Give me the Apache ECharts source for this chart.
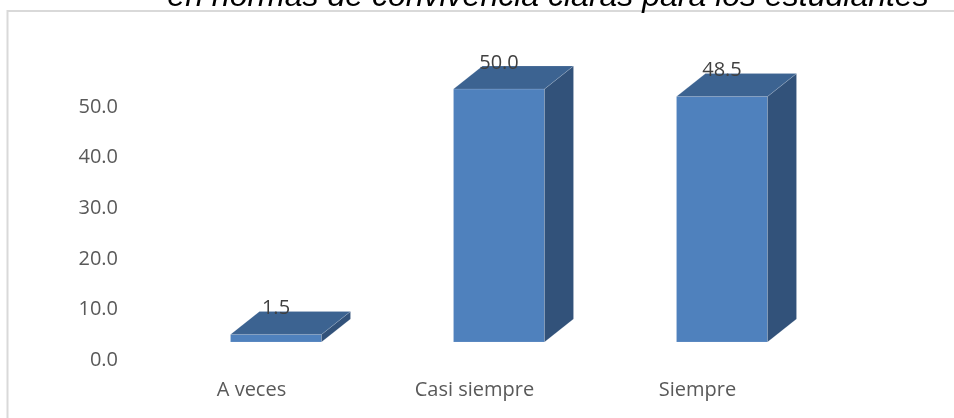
<!DOCTYPE html>
<html>
<head>
<meta charset="utf-8">
<title>Normas de convivencia</title>
<script src="https://cdn.jsdelivr.net/npm/echarts@6/dist/echarts.min.js"></script>
<style>
  html, body { margin: 0; padding: 0; background: #fff; }
  #main { width: 954px; height: 418px; }
</style>
</head>
<body>
<div id="main"></div>
<script>
var categories = ['A veces', 'Casi siempre', 'Siempre'];
var values = [1.5, 50.0, 48.5];
var yTicks = [0, 10, 20, 30, 40, 50];

var myChart = echarts.init(document.getElementById('main'));

// Excel-like 3D column: front face, top and right side
function renderBox(params, api) {
    var idx = api.value(0);
    var v = api.value(1);
    var top = api.coord([idx, v]);
    var base = api.coord([idx, 0]);
    var w = 91, dx = 29, dy = -23, shiftX = 24.5, shiftY = -18;
    var x0 = top[0] + shiftX - w / 2;
    var x1 = x0 + w;
    var yT = top[1] + shiftY;
    var yB = base[1] + shiftY;
    var edge = 'rgba(255,255,255,0.25)';
    return {
        type: 'group',
        children: [{
            type: 'polygon',
            shape: { points: [[x0, yT], [x1, yT], [x1, yB], [x0, yB]] },
            style: { fill: '#4f81bd', stroke: edge, lineWidth: 0.5 }
        }, {
            type: 'polygon',
            shape: { points: [[x1, yT], [x1 + dx, yT + dy], [x1 + dx, yB + dy], [x1, yB]] },
            style: { fill: '#32527a', stroke: edge, lineWidth: 0.5 }
        }, {
            type: 'polygon',
            shape: { points: [[x0, yT], [x1, yT], [x1 + dx, yT + dy], [x0 + dx, yT + dy]] },
            style: { fill: '#3c6391', stroke: edge, lineWidth: 0.5 }
        }, {
            type: 'text',
            style: {
                x: x0 + w / 2,
                y: yT - 26,
                text: v.toFixed(1),
                fill: '#404040',
                font: '20px "Open Sans"',
                align: 'center',
                verticalAlign: 'middle'
            }
        }]
    };
}

var option = {
    animation: false,
    graphic: [{
        type: 'rect',
        shape: { x: 7.5, y: 11, width: 960, height: 420 },
        style: { fill: 'none', stroke: '#d9d9d9', lineWidth: 2 }
    }, {
        type: 'text',
        style: {
            x: 548,
            y: -3,
            text: 'en normas de convivencia claras para los estudiantes',
            fill: '#000',
            font: 'italic 32px "Liberation Sans"',
            align: 'center',
            verticalAlign: 'middle'
        }
    }],
    grid: { left: 140, right: 145, top: 107, bottom: 58 },
    xAxis: {
        type: 'category',
        data: categories,
        axisLine: { show: false },
        axisTick: { show: false },
        axisLabel: {
            color: '#595959',
            fontFamily: 'Open Sans',
            fontSize: 20,
            margin: 20
        }
    },
    yAxis: {
        type: 'value',
        min: yTicks[0],
        max: yTicks[yTicks.length - 1],
        interval: 10,
        splitLine: { show: false },
        axisLine: { show: false },
        axisTick: { show: false },
        axisLabel: {
            color: '#595959',
            fontFamily: 'Open Sans',
            fontSize: 20,
            margin: 22,
            formatter: function (val) { return val.toFixed(1); }
        }
    },
    series: [{
        type: 'custom',
        renderItem: renderBox,
        data: values.map(function (v, i) { return [i, v]; })
    }]
};

myChart.setOption(option);
</script>
</body>
</html>
